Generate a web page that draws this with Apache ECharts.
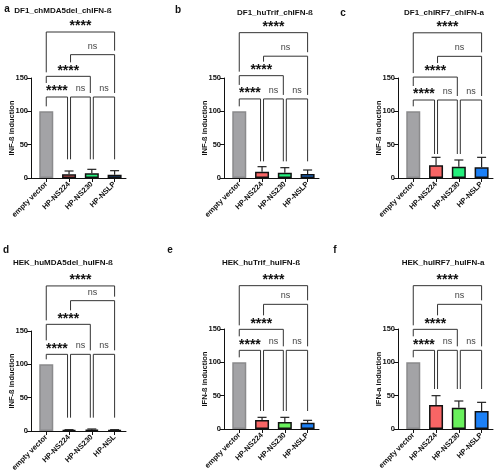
<!DOCTYPE html>
<html>
<head>
<meta charset="utf-8">
<script src="https://cdn.jsdelivr.net/npm/echarts@6/dist/echarts.min.js"></script>
<style>html,body{margin:0;padding:0;background:#fff;}#c{width:500px;height:475px;}</style>
</head>
<body>
<div id="c"></div>
<script>
// ---------- data ----------
const categories = ['empty vector', 'HP-NS224', 'HP-NS230', 'HP-NSLP'];
const categoriesD = ['empty vector', 'HP-NS224', 'HP-NS230', 'HP-NSL'];
const panelLetters = ['a', 'b', 'c', 'd', 'e', 'f'];
const panelTitles = ['DF1_chMDA5del_chIFN-ß', 'DF1_huTrif_chIFN-ß', 'DF1_chIRF7_chIFN-a',
                     'HEK_huMDA5del_huIFN-ß', 'HEK_huTrif_huIFN-ß', 'HEK_huIRF7_huIFN-a'];
const yAxisNames = ['INF-ß induction', 'INF-ß induction', 'INF-ß induction',
                    'INF-ß induction', 'IFN-ß induction', 'IFN-a induction'];
const yTicks = [0, 50, 100, 150];

const meanA = [100, 5.5, 7, 5];    const errA = [0, 5, 6, 6];
const meanB = [100, 9.5, 8, 6];    const errB = [0, 7.5, 7.5, 6];
const meanC = [100, 19, 17, 16];   const errC = [0, 12, 10, 15];
const meanD = [100, 1.5, 2, 1.5];  const errD = [0, 0.5, 1, 0.5];
const meanE = [100, 13.5, 10.5, 9.5]; const errE = [0, 4, 7, 3.5];
const meanF = [100, 36, 32, 27];   const errF = [0, 14, 10, 13];

// comparisons: [fromIndex, toIndex, label, level]
const comparisons = [[0, 1, '****', 0], [1, 2, 'ns', 0], [2, 3, 'ns', 0],
                     [0, 2, '****', 1], [1, 3, 'ns', 2], [0, 3, '****', 3]];
// bracket heights (in y-axis units) for levels 0..3, per panel
const bracketA = [121.5, 152.5, 185, 219];
const bracketB = [118.6, 153.5, 182.7, 218];
const bracketC = [117, 151.4, 182.5, 217.8];
const bracketD = [115, 160, 195.5, 217.6];
const bracketE = [118, 149.5, 187, 215];
const bracketF = [118, 149.5, 187, 215];
// lowest point of bracket legs over treated groups (y-axis units)
const legFloor = [28, 25, 36, 20, 27, 60];

// ---------- layout / style ----------
const means = [meanA, meanB, meanC, meanD, meanE, meanF];
const errs = [errA, errB, errC, errD, errE, errF];
const brackets = [bracketA, bracketB, bracketC, bracketD, bracketE, bracketF];
const gridLeft = [31, 224, 398, 31, 224, 398];
const gridTop = [78, 78, 78, 331, 329, 329];
const gridW = 95, gridH = 100;
const titlePos = [[63, 11], [275, 13], [444, 13], [63, 263], [261, 263], [443, 263]];
const letterPos = [[7, 9], [178, 10], [343, 13], [6, 250], [170, 250], [335, 250]];
const FONT = 'Liberation Sans, Arial, sans-serif';
const greenTop = '#24ef7c', greenBottom = '#69f05c';
function barColors(p) {
  return [
    {color: '#a3a3a6', borderColor: '#8a8a8c'},
    {color: '#f86565', borderColor: '#111'},
    {color: p < 3 ? greenTop : greenBottom, borderColor: '#111'},
    {color: '#1c80f6', borderColor: '#111'}
  ];
}

const chart = echarts.init(document.getElementById('c'), null, {renderer: 'canvas'});
const grids = [], xAxes = [], yAxes = [], series = [], graphics = [];

for (let p = 0; p < 6; p++) {
  const cats = p === 3 ? categoriesD : categories;
  grids.push({left: gridLeft[p], top: gridTop[p], width: gridW, height: gridH, containLabel: false});
  xAxes.push({
    type: 'value', gridIndex: p, min: -0.67, max: 3.5,
    splitLine: {show: false},
    axisLine: {show: true, onZero: false, lineStyle: {color: '#111', width: 1}},
    axisTick: {show: true, customValues: [0, 1, 2, 3], length: 4, lineStyle: {color: '#111'}},
    axisLabel: {show: true, customValues: [0, 1, 2, 3], rotate: 45, margin: 5,
      formatter: v => cats[Math.round(v)] || '',
      color: '#111', fontFamily: FONT, fontWeight: 'bold', fontSize: 7.5}
  });
  yAxes.push({
    type: 'value', gridIndex: p, min: 0, max: 150, interval: 50,
    splitLine: {show: false},
    axisLine: {show: true, onZero: false, lineStyle: {color: '#111', width: 1}},
    axisTick: {show: true, length: 4, lineStyle: {color: '#111'}},
    axisLabel: {color: '#111', fontFamily: FONT, fontWeight: 'bold', fontSize: 7.5, margin: 3,
      formatter: v => yTicks.includes(v) ? String(v) : ''},
    name: yAxisNames[p], nameLocation: 'middle', nameGap: 15, nameRotate: 90, nameMoveOverlap: false,
    nameTextStyle: {color: '#111', fontFamily: FONT, fontWeight: 'bold', fontSize: 7.5}
  });
  const cols = barColors(p);
  series.push({
    type: 'bar', xAxisIndex: p, yAxisIndex: p, barWidth: 14, z: 2,
    data: means[p].map((v, i) => ({value: [i, v], itemStyle: {color: cols[i].color, borderColor: cols[i].borderColor, borderWidth: 1.5}}))
  });
  // error bars (upper only)
  series.push({
    type: 'custom', xAxisIndex: p, yAxisIndex: p, z: 3, silent: true, clip: false,
    data: means[p].map((v, i) => [i, v, errs[p][i]]),
    encode: {x: 0, y: 1},
    renderItem: function (params, api) {
      const i = api.value(0), m = api.value(1), e = api.value(2);
      if (!(e > 0)) return {type: 'group', children: []};
      const b = api.coord([i, m]), t = api.coord([i, m + e]);
      return {type: 'group', children: [
        {type: 'line', shape: {x1: b[0], y1: b[1], x2: t[0], y2: t[1]}, style: {stroke: '#222', lineWidth: 1.2}},
        {type: 'line', shape: {x1: t[0] - 4.5, y1: t[1], x2: t[0] + 4.5, y2: t[1]}, style: {stroke: '#222', lineWidth: 1.2}}
      ]};
    }
  });
  // significance brackets
  const lv = brackets[p];
  series.push({
    type: 'custom', xAxisIndex: p, yAxisIndex: p, z: 4, silent: true, clip: false,
    data: comparisons.map(c => [c[0], lv[c[3]]]),
    encode: {x: 0, y: 1},
    renderItem: function (params, api) {
      const c = comparisons[params.dataIndex];
      const lvl = c[3];
      const yLine = api.coord([0, lv[lvl]])[1];
      function legEnd(col) {
        let best = null;
        comparisons.forEach(o => {
          if (o[3] >= lvl) return;
          if (col >= o[0] && col <= o[1]) {
            const yl = api.coord([0, lv[o[3]]])[1];
            let cand = yl - 4;
            if (o[2] !== 'ns' && Math.abs((o[0] + o[1]) / 2 - col) <= 0.5) cand = yl - 14;
            if (best === null || cand < best) best = cand;
          }
        });
        if (best === null) {
          if (col === 0) best = api.coord([0, means[p][0] + errs[p][0]])[1] - 5;
          else best = api.coord([0, legFloor[p]])[1];
        }
        return best;
      }
      const x1 = api.coord([c[0], 0])[0] + (c[0] > 0 ? 1.5 : 0);
      const x2 = api.coord([c[1], 0])[0] - (c[1] < 3 ? 1.5 : 0);
      const y1 = legEnd(c[0]), y2 = legEnd(c[1]);
      const isNs = c[2] === 'ns';
      return {type: 'group', children: [
        {type: 'polyline', shape: {points: [[x1, y1], [x1, yLine], [x2, yLine], [x2, y2]]},
         style: {stroke: '#333', lineWidth: 1, fill: null}},
        {type: 'text', style: {text: c[2], x: (x1 + x2) / 2, y: yLine - (isNs ? 8.5 : 5.5),
          align: 'center', verticalAlign: 'middle', fill: isNs ? '#444' : '#111',
          font: (isNs ? 'normal 9px ' : 'bold 14px ') + FONT}}
      ]};
    }
  });
  graphics.push({type: 'text', x: titlePos[p][0], y: titlePos[p][1],
    style: {text: panelTitles[p], align: 'center', verticalAlign: 'middle', fill: '#111', font: 'bold 8px ' + FONT}});
  graphics.push({type: 'text', x: letterPos[p][0], y: letterPos[p][1],
    style: {text: panelLetters[p], align: 'center', verticalAlign: 'middle', fill: '#111', font: 'bold 10px ' + FONT}});
}

chart.setOption({
  animation: false,
  backgroundColor: '#fff',
  grid: grids, xAxis: xAxes, yAxis: yAxes, series: series, graphic: graphics
});
</script>
</body>
</html>
